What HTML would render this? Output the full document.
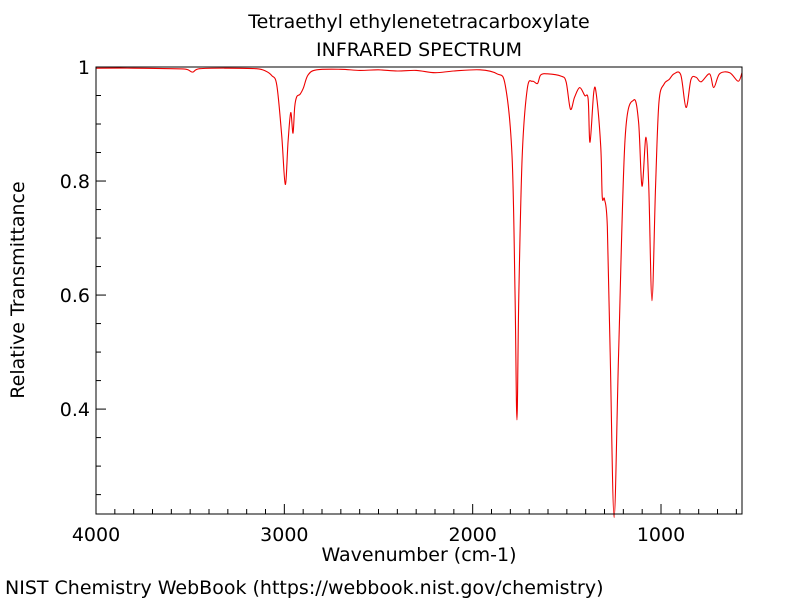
<!DOCTYPE html>
<html><head><meta charset="utf-8"><style>
html,body{margin:0;padding:0;background:#fff;}
svg text{font-family:"DejaVu Sans","Liberation Sans",sans-serif;fill:#000;}
</style></head><body>
<svg id="chart" width="800" height="600" viewBox="0 0 800 600" xmlns="http://www.w3.org/2000/svg">
<rect width="800" height="600" fill="#fff"/>
<text x="419" y="28" font-size="19" text-anchor="middle">Tetraethyl ethylenetetracarboxylate</text>
<text x="419" y="56" font-size="19" text-anchor="middle">INFRARED SPECTRUM</text>
<g id="axes"></g>
<path id="spectrum" fill="none" stroke="#e00" stroke-width="1.1"/>
<rect x="96" y="67" width="646" height="447" fill="none" stroke="#000" stroke-width="1"/>
<text x="419" y="561" font-size="19" text-anchor="middle">Wavenumber (cm-1)</text>
<text x="0" y="0" font-size="19" text-anchor="middle" transform="translate(24,290) rotate(-90)">Relative Transmittance</text>
<text x="5" y="594" font-size="19">NIST Chemistry WebBook (https://webbook.nist.gov/chemistry)</text>
</svg>
<script>
const wavenumbers=[4000,3800,3600,3520,3487,3450,3300,3150,3100,3067,3040,3014,2995,2980,2966,2954,2945,2934,2917,2899,2874,2828,2700,2600,2500,2400,2300,2200,2100,1961,1871,1827,1791,1775,1765,1755,1737,1710,1683,1656,1639,1603,1531,1504,1481,1459,1432,1405,1387,1377,1357,1343,1320,1312,1300,1285,1270,1249,1225,1191,1145,1119,1101,1080,1065,1048,1029,1011,984,957,931,895,867,841,814,787,742,720,689,635,590,570];
const transmittance=[0.998,0.998,0.997,0.996,0.991,0.997,0.998,0.997,0.993,0.985,0.968,0.88,0.794,0.87,0.92,0.884,0.93,0.948,0.952,0.963,0.986,0.995,0.996,0.994,0.995,0.993,0.994,0.99,0.993,0.995,0.988,0.968,0.844,0.6,0.381,0.6,0.844,0.962,0.975,0.971,0.986,0.988,0.984,0.974,0.926,0.947,0.964,0.95,0.944,0.868,0.956,0.951,0.86,0.772,0.768,0.72,0.5,0.21,0.5,0.873,0.942,0.903,0.791,0.877,0.79,0.59,0.79,0.938,0.97,0.978,0.988,0.986,0.929,0.978,0.982,0.974,0.988,0.964,0.988,0.99,0.975,0.99];
const yTickLabels=["0.4","0.6","0.8","1"];
const xTickLabels=["4000","3000","2000","1000"];
const X0=96,X1=742,Y0=67,Y1=514;
const W0=4000,W1=570,T0=0.216,T1=1.0;
function xs(w){return X0+(W0-w)/(W0-W1)*(X1-X0);}
function ys(t){return Y1-(t-T0)/(T1-T0)*(Y1-Y0);}
const ns="http://www.w3.org/2000/svg";
const pts=wavenumbers.map((w,i)=>[xs(w),ys(Math.max(transmittance[i],T0-0.01))]);
let d="M"+pts[0][0].toFixed(2)+","+pts[0][1].toFixed(2);
for(let i=0;i<pts.length-1;i++){
  const p0=pts[Math.max(i-1,0)],p1=pts[i],p2=pts[i+1],p3=pts[Math.min(i+2,pts.length-1)];
  const k=1/6;
  const c1x=p1[0]+(p2[0]-p0[0])*k,c1y=p1[1]+(p2[1]-p0[1])*k;
  const c2x=p2[0]-(p3[0]-p1[0])*k,c2y=p2[1]-(p3[1]-p1[1])*k;
  d+="C"+c1x.toFixed(2)+","+c1y.toFixed(2)+" "+c2x.toFixed(2)+","+c2y.toFixed(2)+" "+p2[0].toFixed(2)+","+p2[1].toFixed(2);
}
document.getElementById('spectrum').setAttribute('d',d);
const ax=document.getElementById('axes');
function line(x1,y1,x2,y2,name){
  const l=document.createElementNS(ns,'line');
  l.setAttribute('x1',x1);l.setAttribute('y1',y1);l.setAttribute('x2',x2);l.setAttribute('y2',y2);
  l.setAttribute('stroke','#000');l.setAttribute('stroke-width','1');
  
  
  ax.appendChild(l);
}
function txt(x,y,s,anchor,name){
  const t=document.createElementNS(ns,'text');
  t.setAttribute('x',x);t.setAttribute('y',y);t.setAttribute('font-size','19');t.setAttribute('text-anchor',anchor);
  t.textContent=s;
  
  
  ax.appendChild(t);
}
for(let w=4000;w>=W1;w-=100){
  const x=xs(w),major=(w%1000===0);
  line(x,Y1,x,Y1-(major?10:5),'x-tick');
}
xTickLabels.forEach(s=>txt(xs(+s),541,s,'middle','x-tick-label'));
for(let k=0;k*0.05+0.25<=1.0001;k++){
  const t=0.25+k*0.05,y=ys(t);
  const major=Math.abs((t*10)%2)<0.01||Math.abs((t*10)%2-2)<0.01;
  line(X0,y,X0+(major?10:5),y,'y-tick');
}
yTickLabels.forEach(s=>txt(90,ys(+s)+7,s,'end','y-tick-label'));
</script>
</body></html>
